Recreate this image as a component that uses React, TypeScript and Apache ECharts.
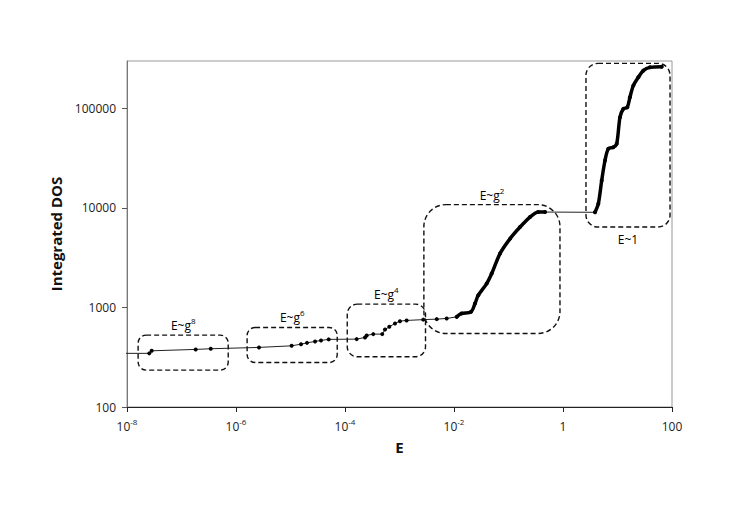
import React, { useEffect, useRef } from "react";
import * as echarts from "echarts";

// Energy E and integrated density of states
const energy = [
  7.4e-9, 2.56e-8, 2.84e-8, 1.82e-7, 3.44e-7, 2.64e-6, 1.05e-5, 1.56e-5, 2.01e-5,
  2.82e-5, 3.63e-5, 5.02e-5, 1.64e-4, 2.33e-4, 2.5e-4, 3.3e-4, 4.83e-4, 5.42e-4,
  6.5e-4, 8.26e-4, 1.02e-3, 1.35e-3, 2.73e-3, 4.82e-3, 7.35e-3, 1.12e-2, 1.38e-2,
  2.05e-2, 2.43e-2, 2.79e-2, 3.98e-2, 4.92e-2, 6.99e-2, 0.107, 0.163, 0.248, 0.352,
  0.468, 3.87, 4.45, 5.13, 5.9, 6.78, 8.37, 9.67, 11.1, 12.8, 15.1, 16.9, 19.5,
  24.1, 29.7, 39.4, 64.7,
];
const dos = [
  346, 346, 367, 379, 385, 397, 412, 428, 441,
  456, 467, 478, 481, 500, 524, 540, 540, 601,
  639, 691, 729, 741, 755, 764, 776, 805, 871,
  904, 1096, 1328, 1740, 2193, 3481, 4921, 6433, 8103, 9100,
  9100, 9050, 11040, 18920, 30000, 39330, 40830, 44160, 81600, 99100, 102800, 129500, 169700,
  205600, 240000, 259000, 263000,
];
// Ranges of E where the computed levels are so dense they form a solid curve
const denseRanges = [
  [1.1e-2, 0.5],
  [3.8, 70],
];
// Tick values
const yTickValues = [100, 1000, 10000, 100000];

// Annotation boxes (data space)
const boxLabels = ["E~g{s|8}", "E~g{s|6}", "E~g{s|4}", "E~g{s|2}", "E~1"];
const boxE = [
  [1.6e-8, 7.2e-7],
  [1.6e-6, 7.2e-5],
  [1.1e-4, 3.0e-3],
  [2.8e-3, 0.88],
  [2.64, 92],
];
const boxDos = [
  [235, 527],
  [280, 630],
  [320, 1080],
  [548, 10800],
  [6430, 284000],
];
const boxLabelBelow = [false, false, false, false, true];
const boxRadius = [8, 8, 10, 22, 12];

const FONT = '"Open Sans", "Liberation Sans", sans-serif';

export default function App() {
  const ref = useRef<HTMLDivElement>(null);
  useEffect(() => {
    document.body.style.margin = "0";
    if (!ref.current) return;
    const chart = echarts.init(ref.current, undefined, { renderer: "svg" });
    const all = energy.map((e, i) => [e, dos[i]]);
    const dense: any[] = [];
    denseRanges.forEach(([a, b], k) => {
      if (k > 0) dense.push([Math.sqrt(denseRanges[k - 1][1] * a), null]);
      energy.forEach((e, i) => {
        if (e >= a && e <= b) dense.push([e, dos[i]]);
      });
    });
    const supRich = {
      b: { fontSize: 12, fontFamily: FONT, color: "#222", lineHeight: 15, verticalAlign: "bottom" },
      s: { fontSize: 8, fontFamily: FONT, color: "#222", lineHeight: 8, verticalAlign: "top" },
    };
    chart.setOption({
      animation: false,
      backgroundColor: "#fff",
      grid: {
        left: 127,
        top: 61,
        width: 545,
        height: 346,
        show: true,
        borderColor: "#999",
        borderWidth: 1,
        backgroundColor: "transparent",
      },
      xAxis: {
        type: "log",
        logBase: 10,
        min: 1e-8,
        max: 100,
        interval: 2,
        name: "E",
        nameLocation: "middle",
        nameGap: 32,
        nameTextStyle: { fontSize: 15, fontWeight: "bold", fontFamily: FONT, color: "#111" },
        axisLine: { show: true, lineStyle: { color: "#222", width: 1 } },
        axisTick: { show: true, inside: false, length: 5, lineStyle: { color: "#222" } },
        splitLine: { show: false },
        minorTick: { show: false },
        axisLabel: {
          margin: 10,
          fontFamily: FONT,
          formatter: (v: number) => {
            const e = Math.round(Math.log10(v));
            return e < 0 ? `{b|10}{s|${e}}` : `{b|${Math.round(Math.pow(10, e))}}`;
          },
          rich: supRich,
        },
      },
      yAxis: {
        type: "log",
        logBase: 10,
        min: 100,
        max: 300000,
        interval: 1,
        name: "Integrated DOS",
        nameLocation: "middle",
        nameGap: 56,
        nameTextStyle: { fontSize: 15, fontWeight: "bold", fontFamily: FONT, color: "#111" },
        axisLine: { show: true, lineStyle: { color: "#777", width: 1 } },
        axisTick: {
          show: true,
          inside: false,
          length: 5,
          customValues: yTickValues,
          lineStyle: { color: "#555" },
        },
        splitLine: { show: false },
        axisLabel: {
          margin: 11,
          fontSize: 12,
          fontFamily: FONT,
          color: "#222",
          customValues: yTickValues,
          formatter: (v: number) => {
            const e = Math.log10(v);
            return Math.abs(e - Math.round(e)) < 1e-6 ? String(Math.round(v)) : "";
          },
        },
      },
      series: [
        {
          type: "line",
          data: all,
          clip: true,
          symbol: "circle",
          symbolSize: 4,
          showAllSymbol: true,
          itemStyle: { color: "#000" },
          lineStyle: { color: "#222", width: 1 },
          z: 2,
        },
        {
          type: "line",
          data: dense,
          clip: true,
          symbol: "none",
          connectNulls: false,
          smooth: 0.3,
          lineStyle: { color: "#000", width: 3.5, cap: "round", join: "round" },
          z: 3,
        },
      ],
    });

    const graphics: any[] = [];
    boxLabels.forEach((lab, i) => {
      const p1 = chart.convertToPixel({ gridIndex: 0 }, [boxE[i][0], boxDos[i][1]]) as number[];
      const p2 = chart.convertToPixel({ gridIndex: 0 }, [boxE[i][1], boxDos[i][0]]) as number[];
      const x = p1[0];
      const y = p1[1];
      const w = p2[0] - p1[0];
      const h = p2[1] - p1[1];
      graphics.push({
        type: "rect",
        shape: { x, y, width: w, height: h, r: boxRadius[i] },
        style: { fill: "none", stroke: "#111", lineWidth: 1.4, lineDash: [5, 3] },
        z: 10,
      });
      graphics.push({
        type: "text",
        x: x + w / 2,
        y: boxLabelBelow[i] ? y + h + 11 : y - 11,
        style: {
          text: lab.includes("{s|") ? `{b|${lab.split("{s|")[0]}}{s|${lab.split("{s|")[1]}` : `{b|${lab}}`,
          align: "center",
          verticalAlign: "middle",
          rich: supRich,
        },
        z: 10,
      });
    });
    chart.setOption({ graphic: graphics });

    return () => chart.dispose();
  }, []);
  return <div ref={ref} style={{ width: 747, height: 529 }} />;
}
